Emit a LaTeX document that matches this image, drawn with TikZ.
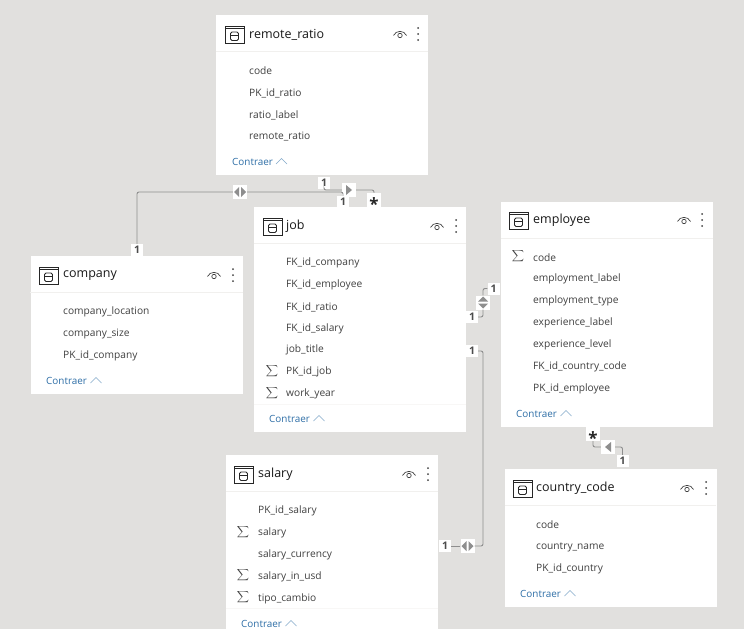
\documentclass[tikz,border=0pt]{standalone}
\usepackage{amsmath}
\usepackage{fontspec}
\setmainfont{Open Sans}
\definecolor{canvas}{HTML}{E1E0DE}
\definecolor{rule}{HTML}{F1F0EE}
\definecolor{footrule}{HTML}{F8F7F6}
\definecolor{linkblue}{HTML}{2F6FA7}
\definecolor{textgrey}{HTML}{404040}
\definecolor{relgrey}{HTML}{8E8E8E}
\newcommand{\manymark}{\smash{\raisebox{-10.5pt}{*}}}
\newcommand{\sumgrey}{$\displaystyle\sum$}
\tikzset{
  card/.style = {fill=white, minimum width=212pt, inner sep=0pt},
  title/.style = {anchor=west, inner sep=0pt, yshift=-1.5pt, font=\fontsize{12.5}{14}\selectfont, text=black!90},
  field/.style = {anchor=west, inner sep=0pt, yshift=-1pt, font=\fontsize{10.2}{12}\selectfont, text=textgrey},
  sumsign/.style = {inner sep=0pt, font=\fontsize{8.5}{11}\selectfont, text=textgrey},
  collapse/.style = {anchor=west, inner sep=0pt, yshift=-.6pt, font=\fontsize{9.9}{12}\selectfont, text=linkblue},
  card1/.style = {fill=white, inner sep=0pt, minimum width=12pt, minimum height=12pt, font=\fontsize{10.5}{12}\selectfont\bfseries, text=black!70},
  cardmany/.style = {card1, minimum width=14pt, minimum height=14pt, font=\fontsize{17}{12}\selectfont\bfseries, text=black!85},
  rel/.style = {draw=relgrey, line width=.9pt, rounded corners=2pt},
  bothh/.style = {fill=white, inner sep=0pt, minimum size=14pt, path picture={
    \fill[relgrey] (-1pt,-5pt) -- (-1pt,5pt) -- (-6pt,0pt) -- cycle;
    \fill[relgrey] (1pt,-5pt) -- (1pt,5pt) -- (6pt,0pt) -- cycle;}},
  bothv/.style = {fill=white, inner sep=0pt, minimum size=14pt, path picture={
    \fill[relgrey] (-5pt,-1pt) -- (5pt,-1pt) -- (0pt,-6pt) -- cycle;
    \fill[relgrey] (-5pt,1pt) -- (5pt,1pt) -- (0pt,6pt) -- cycle;}},
  oneright/.style = {fill=white, inner sep=0pt, minimum size=14pt, path picture={
    \fill[relgrey] (-3pt,-5pt) -- (-3pt,5pt) -- (3pt,0pt) -- cycle;}},
  oneleft/.style = {fill=white, inner sep=0pt, minimum size=14pt, path picture={
    \fill[relgrey] (3pt,-5pt) -- (3pt,5pt) -- (-3pt,0pt) -- cycle;}},
  headicon/.pic = {
    \draw[black!85, line width=.9pt] (-9.5pt,-8.5pt) rectangle (9.5pt,8.5pt);
    \draw[black!85, line width=.9pt] (-9.5pt,6pt) -- (9.5pt,6pt);
    \draw[black!85, line width=.8pt, rounded corners=1.5pt] (-4pt,-6pt) rectangle (4pt,2.5pt);
    \draw[black!85, line width=.7pt] (-4pt,-.5pt) -- (4pt,-.5pt);
  },
  eyeicon/.pic = {
    \draw[black!75, line width=.7pt] (-6.5pt,-1.5pt) .. controls (-4pt,4pt) and (4pt,4pt) .. (6.5pt,-1.5pt);
    \draw[black!75, line width=.7pt] (0pt,-1.5pt) circle (2.2pt);
  },
  dotsicon/.pic = {
    \foreach \dy in {-6,0,6} \fill[black!75] (0pt,\dy pt) circle (1pt);
  },
  chevron/.pic = {
    \draw[linkblue!60, line width=.6pt] (-5.5pt,-3pt) -- (0pt,2.5pt) -- (5.5pt,-3pt);
  },
  x=1pt, y=-1pt
}
\begin{document}
\begin{tikzpicture}
\path[use as bounding box, fill=canvas] (0,0) rectangle (744,629);

% tables
\node[card, minimum height=160pt] (remote) at (322,95) {};
\node[card, minimum height=225pt] (job) at (360,319.5) {};
\node[card, minimum height=138pt] (company) at (136.5,325) {};
\node[card, minimum height=225pt] (employee) at (607,314.5) {};
\node[card, minimum height=174pt] (salary) at (332,542) {};
\node[card, minimum height=138pt] (country) at (610.5,538) {};

% header rules
\draw[rule] (216,51) -- (428,51);
\draw[rule] (254,243) -- (466,243);
\draw[rule] (30,292) -- (243,292);
\draw[rule] (501,238) -- (713,238);
\draw[rule] (226,491) -- (438,491);
\draw[rule] (505,505) -- (716,505);
\draw[footrule] (254,404) -- (466,404);
\draw[footrule] (226,608) -- (438,608);

% remote_ratio
\pic at (234.5,34.5) {headicon};
\node[title] (remotetitle) at (249,33) {remote\_ratio};
\pic at (400,34) {eyeicon};
\pic at (418,34) {dotsicon};
\node[field] (remotecode) at (249,70) {code};
\node[field] (remotepk) at (249,92) {PK\_id\_ratio};
\node[field] (remotelabel) at (249,114) {ratio\_label};
\node[field] (remoteratio) at (249,136) {remote\_ratio};
\node[collapse] (remotemore) at (232,161) {Contraer};
\pic at (281.5,161) {chevron};

% job
\pic at (272.5,226.5) {headicon};
\node[title] (jobtitle) at (286,225) {job};
\pic at (437,226) {eyeicon};
\pic at (456,226) {dotsicon};
\node[field] (jobcompany) at (286,262) {FK\_id\_company};
\node[field] (jobemployee) at (286,284) {FK\_id\_employee};
\node[field] (jobratio) at (286,306) {FK\_id\_ratio};
\node[field] (jobsalary) at (286,328) {FK\_id\_salary};
\node[field] (jobname) at (286,349) {job\_title};
\node[field] (jobpk) at (286,371) {PK\_id\_job};
\node[field] (jobyear) at (286,393) {work\_year};
\node[sumsign] (jobsum1) at (272,371) {\sumgrey};
\node[sumsign] (jobsum2) at (272,393) {\sumgrey};
\node[collapse] (jobmore) at (269,418) {Contraer};
\pic at (319,418) {chevron};

% company
\pic at (48.5,275.5) {headicon};
\node[title] (companytitle) at (63,274) {company};
\pic at (214,275) {eyeicon};
\pic at (233,275) {dotsicon};
\node[field] (companyloc) at (63,311) {company\_location};
\node[field] (companysize) at (63,333) {company\_size};
\node[field] (companypk) at (63,355) {PK\_id\_company};
\node[collapse] (companymore) at (46,380) {Contraer};
\pic at (96,380) {chevron};

% employee
\pic at (518.5,220.5) {headicon};
\node[title] (employeetitle) at (533,219) {employee};
\pic at (684,220) {eyeicon};
\pic at (702,220) {dotsicon};
\node[field] (employeecode) at (533,257) {code};
\node[field] (employeelabel) at (533,278) {employment\_label};
\node[field] (employeetype) at (533,300) {employment\_type};
\node[field] (employeexplabel) at (533,322) {experience\_label};
\node[field] (employeexplevel) at (533,344) {experience\_level};
\node[field] (employeefk) at (533,366) {FK\_id\_country\_code};
\node[field] (employeepk) at (533,388) {PK\_id\_employee};
\node[sumsign] (employeesum) at (518,256) {\sumgrey};
\node[collapse] (employeemore) at (516,413) {Contraer};
\pic at (566,413) {chevron};

% salary
\pic at (243.5,474.5) {headicon};
\node[title] (salarytitle) at (258,473) {salary};
\pic at (409,474) {eyeicon};
\pic at (428,474) {dotsicon};
\node[field] (salarypk) at (258,510) {PK\_id\_salary};
\node[field] (salaryval) at (258,532) {salary};
\node[field] (salarycur) at (258,554) {salary\_currency};
\node[field] (salaryusd) at (258,576) {salary\_in\_usd};
\node[field] (salarytipo) at (258,598) {tipo\_cambio};
\node[sumsign] (salarysum1) at (243,532) {\sumgrey};
\node[sumsign] (salarysum2) at (243,575) {\sumgrey};
\node[sumsign] (salarysum3) at (243,597) {\sumgrey};
\node[collapse] (salarymore) at (241,623) {Contraer};
\pic at (291,623) {chevron};

% country_code
\pic at (522.5,488.5) {headicon};
\node[title] (countrytitle) at (536,487) {country\_code};
\pic at (687,488) {eyeicon};
\pic at (706,488) {dotsicon};
\node[field] (countrycode) at (536,524) {code};
\node[field] (countryname) at (536,546) {country\_name};
\node[field] (countrypk) at (536,568) {PK\_id\_country};
\node[collapse] (countrymore) at (520,593) {Contraer};
\pic at (570,593) {chevron};

% relation marks
\node[card1] (companyone) at (137,250) {1};
\node[bothh] (companyjob) at (240,192) {};
\node[card1] (jobone) at (343,202) {1};
\node[card1] (remoteone) at (324,183) {1};
\node[oneright] (remotejob) at (349,190) {};
\node[cardmany] (jobmany) at (374,200) {\manymark};
\node[card1] (jobempone) at (472,317) {1};
\node[bothv] (jobemp) at (483,302.5) {};
\node[card1] (empjobone) at (493.5,288.5) {1};
\node[card1] (jobsalone) at (472,351) {1};
\node[bothh] (jobsal) at (467.5,546) {};
\node[card1] (saljobone) at (445,546) {1};
\node[cardmany] (empmany) at (593,434) {\manymark};
\node[oneleft] (empcountry) at (608,447) {};
\node[card1] (countryone) at (622.5,461) {1};

% relations
\draw[rel] (companyone) |- (companyjob);
\draw[rel] (companyjob) -| (jobone);
\draw[rel] (remoteone) |- (remotejob);
\draw[rel] (remotejob) -| (jobmany);
\draw[rel] (jobempone) -| (jobemp);
\draw[rel] (jobemp) |- (empjobone);
\draw[rel] (jobsalone) -| (483,546) -- (jobsal);
\draw[rel] (jobsal) -- (saljobone);
\draw[rel] (empmany) |- (empcountry);
\draw[rel] (empcountry) -| (countryone);
\end{tikzpicture}
\end{document}
